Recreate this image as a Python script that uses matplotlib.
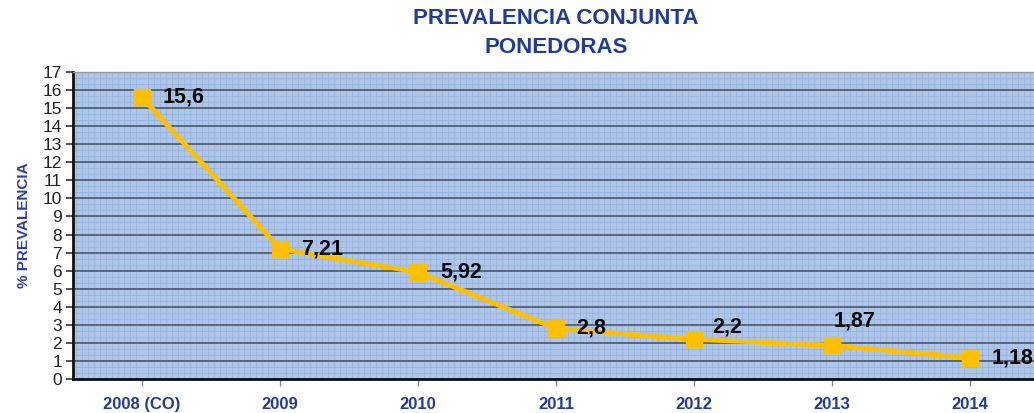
import matplotlib
matplotlib.use("Agg")
import matplotlib.pyplot as plt
from matplotlib.ticker import MultipleLocator

categories = ["2008 (CO)", "2009", "2010", "2011", "2012", "2013", "2014"]
values = [15.6, 7.21, 5.92, 2.8, 2.2, 1.87, 1.18]
labels = ["15,6", "7,21", "5,92", "2,8", "2,2", "1,87", "1,18"]
label_offsets = [(21, 0), (21, 0), (22, 0), (20, 0), (18, 12), (2, 24), (22, 0)]

plt.rcParams['font.family'] = ['Liberation Sans', 'DejaVu Sans']

fig = plt.figure(figsize=(10.34, 4.13), dpi=100)
ax = fig.add_axes([73/1034, 34/413, 966/1034, 307/413])

ax.set_facecolor('#ADC6E9')
x = list(range(len(categories)))
ax.plot(x, values, color='#FFC000', lw=3.5, marker='s', ms=11,
        markerfacecolor='#FFC000', markeredgecolor='#FFC000', zorder=5, clip_on=False)

for xi, v, lab, off in zip(x, values, labels, label_offsets):
    ax.annotate(lab, (xi, v), xytext=off, textcoords='offset pixels',
                ha='left', va='center',
                fontsize=15.5, fontweight='bold', color='#0A0A0A', zorder=6)

ax.set_xlim(-0.5, 6.5)
ax.set_ylim(0, 17)
ax.set_xticks(x)
ax.set_xticklabels(categories, fontsize=12, fontweight='bold', color='#1F3C9A')
ax.yaxis.set_major_locator(MultipleLocator(1))
ax.tick_params(axis='y', labelsize=12.5, labelcolor='#222222', length=5, width=1.2, color='#333333', pad=3)
ax.tick_params(axis='x', length=5, width=1, color='#888888', pad=8)

ax.yaxis.set_minor_locator(MultipleLocator(1/3))
ax.xaxis.set_minor_locator(MultipleLocator(1/23))
ax.tick_params(which='minor', length=0)
ax.grid(which='minor', color='#97B2DC', lw=0.8, alpha=0.7)
ax.grid(which='major', axis='y', color='#4E5566', lw=1.2)
ax.grid(which='major', axis='x', visible=False)
ax.set_axisbelow(True)

ax.spines['right'].set_visible(False)
ax.spines['top'].set_color('#999999')
ax.spines['top'].set_linewidth(1)
ax.spines['left'].set_linewidth(2)
ax.spines['left'].set_color('#111111')
ax.spines['bottom'].set_linewidth(2)
ax.spines['bottom'].set_color('#111111')

ax.set_ylabel('% PREVALENCIA', fontsize=11, fontweight='bold', color='#2E3FA0', labelpad=8)
ax.set_title('PREVALENCIA CONJUNTA\nPONEDORAS', fontsize=16, fontweight='bold',
             color='#1F3C9A', pad=14, linespacing=1.45)

fig.savefig('out.png', dpi=100)
